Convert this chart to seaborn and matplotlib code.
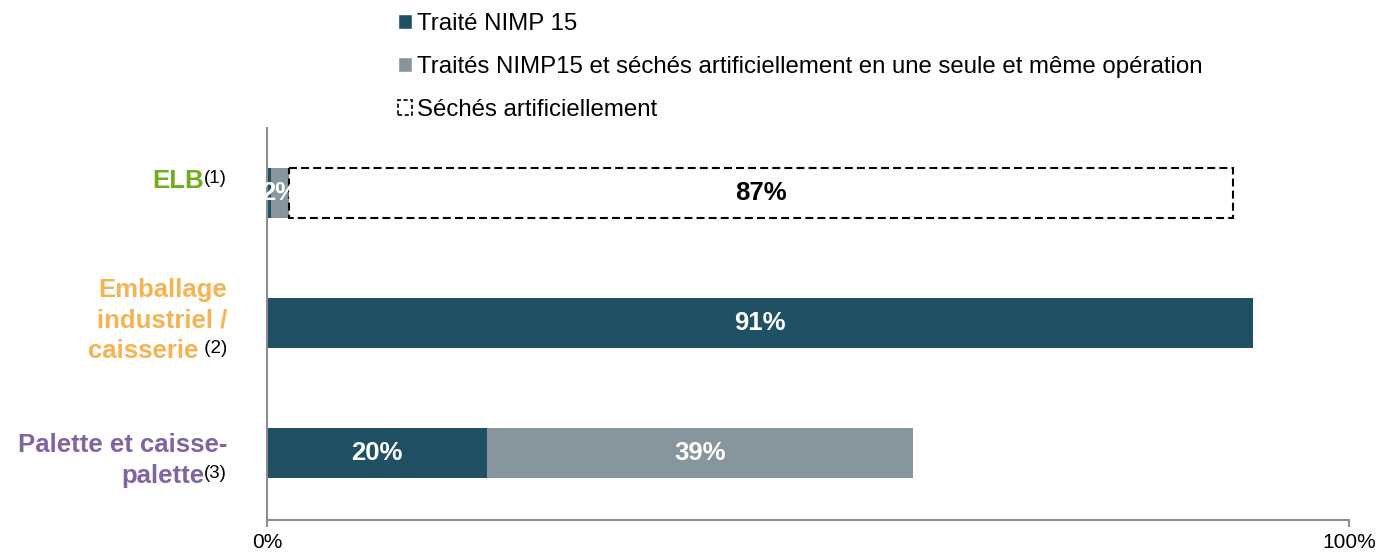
import matplotlib
matplotlib.use("Agg")
import matplotlib.pyplot as plt
from matplotlib.patches import Patch
import pandas as pd
import seaborn as sns

# --- data ---
categories = ["ELB", "Emballage industriel / caisserie", "Palette et caisse-palette"]
label_lines = [["ELB"], ["Emballage", "industriel /", "caisserie"], ["Palette et caisse-", "palette"]]
label_notes = ["(1)", " (2)", "(3)"]
label_colors = ["#6FAE1A", "#F6B352", "#8064A2"]

treated = [0.4, 91.1, 20.3]
treated_dried = [1.6, 0.0, 39.4]
dried = [87.3, 0.0, 0.0]

series_names = [
    "Traité NIMP 15",
    "Traités NIMP15 et séchés artificiellement en une seule et même opération",
    "Séchés artificiellement",
]
x_ticks = [0, 100]
x_tick_labels = ["0%", "100%"]

TEAL = "#1F5063"
GREY = "#87959C"
AXIS_GREY = "#8C8C8C"

sns.set_style("white")
plt.rcParams["font.family"] = ["Liberation Sans", "DejaVu Sans"]
plt.rcParams["text.color"] = "black"

fig = plt.figure(figsize=(13.79, 5.52), dpi=100)
ax = fig.add_axes([267 / 1379, 32 / 552, 1082 / 1379, 392 / 552])


def draw_segment(values, lefts, label_color, **style):
    seg = pd.DataFrame({"cat": categories, "val": values, "left": lefts})
    seg = seg[seg["val"] > 0]
    sns.barplot(data=seg, x="val", y="cat", order=categories, orient="h",
                left=seg["left"].tolist(), width=0.39, saturation=1,
                errorbar=None, ax=ax, **style)
    labels = [f"{v:.0f}%" if v >= 1 else "" for v in seg["val"]]
    ax.bar_label(ax.containers[-1], labels=labels, label_type="center",
                 color=label_color, fontsize=18.5, fontweight="bold")


left_mid = treated
left_dry = [a + b for a, b in zip(treated, treated_dried)]

draw_segment(treated, [0, 0, 0], "white", color=TEAL, linewidth=0)
draw_segment(treated_dried, left_mid, "white", color=GREY, linewidth=0)
draw_segment(dried, left_dry, "black", color="white", edgecolor="black",
             linestyle=(0, (3.8, 2.0)), linewidth=1.5)

ax.set_xlim(0, 100)
ax.set_ylim(2.515, -0.5)
ax.set_xlabel("")
ax.set_ylabel("")
ax.set_xticks(x_ticks)
ax.set_xticklabels(x_tick_labels)
ax.tick_params(axis="x", bottom=True, length=5, width=1.5, color=AXIS_GREY,
               labelsize=15, labelcolor="black", pad=4, direction="out")
ax.tick_params(axis="y", left=False, labelleft=False)
for side in ["top", "right"]:
    ax.spines[side].set_visible(False)
for side in ["left", "bottom"]:
    ax.spines[side].set_color(AXIS_GREY)
    ax.spines[side].set_linewidth(1.5)

# category labels, coloured, with a black note in superscript
label_baselines = [[-5], [-26, 4.5, 35], [-1, 30]]
fig.canvas.draw()
renderer = fig.canvas.get_renderer()
for i, (lines, note, color) in enumerate(zip(label_lines, label_notes, label_colors)):
    for j, (line, dy) in enumerate(zip(lines, label_baselines[i])):
        x_off = -40
        if j == len(lines) - 1:
            sup = ax.annotate(note, xy=(0, i), xycoords=("axes fraction", "data"),
                              xytext=(-40, -dy + 5.5), textcoords="offset pixels",
                              ha="right", va="baseline", fontsize=13.5,
                              color="black", annotation_clip=False)
            x_off = -40 - sup.get_window_extent(renderer).width
        ax.annotate(line, xy=(0, i), xycoords=("axes fraction", "data"),
                    xytext=(x_off, -dy), textcoords="offset pixels",
                    ha="right", va="baseline", fontsize=18.5, fontweight="bold",
                    color=color, annotation_clip=False)

handles = [
    Patch(facecolor=TEAL),
    Patch(facecolor=GREY),
    Patch(facecolor="white", edgecolor="black", linestyle=(0, (2.5, 1.5)), linewidth=1.2),
]
fig.legend(handles, series_names, loc="upper left",
           bbox_to_anchor=(398 / 1379, 1 - 13 / 552), frameon=False,
           fontsize=17.3, handlelength=0.6, handleheight=0.55,
           handletextpad=0.2, labelspacing=0.87, borderpad=0, borderaxespad=0)

fig.savefig("out.png", dpi=100)
